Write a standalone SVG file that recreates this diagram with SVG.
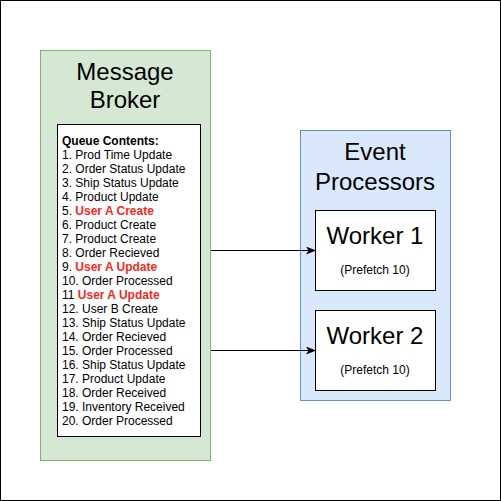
<svg xmlns="http://www.w3.org/2000/svg" width="501" height="501" viewBox="0 0 501 501">
  <style>
    text { font-family: "Liberation Sans", Arial, Helvetica, sans-serif; fill: #000; }
    .title { font-size: 24px; text-anchor: middle; }
    .item { font-size: 12px; }
    .bold { font-weight: bold; }
    .hot { font-weight: bold; fill: #f52a1e; }
    .small { font-size: 12px; text-anchor: middle; }
    .box { fill: #fff; stroke: #000; stroke-width: 1; }
    .link { stroke: #000; stroke-width: 1; fill: none; }
  </style>
  <defs>
    <marker id="arrow" viewBox="0 0 10 8" refX="9" refY="4" markerWidth="10" markerHeight="8" markerUnits="userSpaceOnUse" orient="auto">
      <path d="M0,0 L10,4 L0,8 L2.5,4 z" fill="#000"/>
    </marker>
  </defs>

  <!-- frame -->
  <rect x="0.5" y="0.5" width="500" height="500" fill="#fff" stroke="#000" stroke-width="1"/>

  <!-- broker -->
  <g id="message-broker">
    <rect x="40.5" y="50.5" width="170" height="410" fill="#d5e8d4" stroke="#82b366" stroke-width="1"/>
    <text class="title" x="125" y="80">Message</text>
    <text class="title" x="125" y="108">Broker</text>
  </g>

  <g id="queue-contents">
    <rect class="box" x="57.5" y="124.5" width="143" height="312"/>
    <text class="item" x="62" y="145"><tspan class="bold">Queue Contents:</tspan></text>
    <text class="item" x="62" y="159">1. Prod Time Update</text>
    <text class="item" x="62" y="173">2. Order Status Update</text>
    <text class="item" x="62" y="187">3. Ship Status Update</text>
    <text class="item" x="62" y="201">4. Product Update</text>
    <text class="item" x="62" y="215">5. <tspan class="hot">User A Create</tspan></text>
    <text class="item" x="62" y="229">6. Product Create</text>
    <text class="item" x="62" y="243">7. Product Create</text>
    <text class="item" x="62" y="257">8. Order Recieved</text>
    <text class="item" x="62" y="271">9. <tspan class="hot">User A Update</tspan></text>
    <text class="item" x="62" y="285">10. Order Processed</text>
    <text class="item" x="62" y="299">11 <tspan class="hot">User A Update</tspan></text>
    <text class="item" x="62" y="313">12. User B Create</text>
    <text class="item" x="62" y="327">13. Ship Status Update</text>
    <text class="item" x="62" y="341">14. Order Recieved</text>
    <text class="item" x="62" y="355">15. Order Processed</text>
    <text class="item" x="62" y="369">16. Ship Status Update</text>
    <text class="item" x="62" y="383">17. Product Update</text>
    <text class="item" x="62" y="397">18. Order Received</text>
    <text class="item" x="62" y="411">19. Inventory Received</text>
    <text class="item" x="62" y="425">20. Order Processed</text>
  </g>

  <!-- processors -->
  <g id="event-processors">
    <rect x="300.5" y="130.5" width="150" height="270" fill="#dae8fc" stroke="#6c8ebf" stroke-width="1"/>
    <text class="title" x="375" y="160">Event</text>
    <text class="title" x="375" y="190">Processors</text>
  </g>

  <g id="worker-1">
    <rect class="box" x="315.5" y="210.5" width="120" height="80"/>
    <text class="title" x="375" y="244">Worker 1</text>
    <text class="small" x="375" y="274">(Prefetch 10)</text>
  </g>

  <g id="worker-2">
    <rect class="box" x="315.5" y="310.5" width="120" height="80"/>
    <text class="title" x="375" y="344">Worker 2</text>
    <text class="small" x="375" y="374">(Prefetch 10)</text>
  </g>

  <!-- connectors -->
  <g id="connectors">
    <line class="link" x1="211" y1="250.5" x2="315" y2="250.5" marker-end="url(#arrow)"/>
    <line class="link" x1="211" y1="350.5" x2="315" y2="350.5" marker-end="url(#arrow)"/>
  </g>
</svg>
